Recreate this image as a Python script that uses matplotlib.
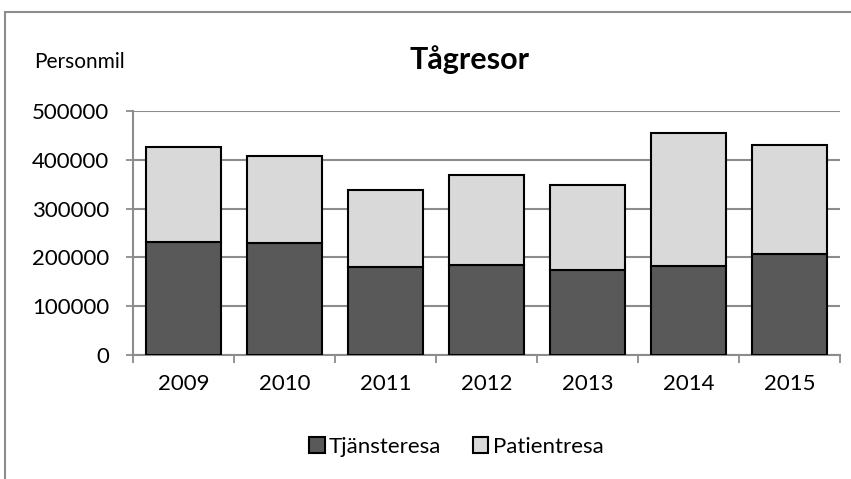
import numpy as np
import matplotlib
matplotlib.use("Agg")
import matplotlib.pyplot as plt
from matplotlib.patches import Rectangle

years = ['2009', '2010', '2011', '2012', '2013', '2014', '2015']
tjansteresa = [232500, 230500, 180500, 184000, 174000, 182000, 206500]
patientresa = [194500, 178500, 158500, 185000, 175500, 273000, 224500]
yticks = [0, 100000, 200000, 300000, 400000, 500000]

plt.rcParams['font.family'] = ['Lato', 'DejaVu Sans']

fig = plt.figure(figsize=(8.51, 4.79), dpi=100)
ax = fig.add_axes([0.156, 0.259, 0.831, 0.509])

# chart frame (runs off the right/bottom edge like the original)
fig.patches.append(Rectangle((5 / 851, -0.1), 1.2, 1.1 - 12 / 479, transform=fig.transFigure,
                             fill=False, edgecolor='#8c8c8c', linewidth=1.5, zorder=0))

x = np.arange(len(years))
w = 0.74
ax.bar(x, tjansteresa, w, color='#595959', edgecolor='black', linewidth=1.5, zorder=3,
       label='Tjänsteresa')
ax.bar(x, patientresa, w, bottom=tjansteresa, color='#d9d9d9', edgecolor='black', linewidth=1.5,
       zorder=3, label='Patientresa')

ax.set_xlim(-0.5, len(years) - 0.5)
ax.set_ylim(0, 500000)
ax.set_yticks(yticks)
ax.set_yticklabels([str(v) for v in yticks], fontsize=16)
ax.set_xticks(x)
ax.set_xticklabels(years, fontsize=16)
ax.set_xticks(np.arange(-0.5, len(years)), minor=True)
ax.tick_params(axis='x', which='major', length=0, pad=14)
ax.tick_params(axis='x', which='minor', length=6, color='#8c8c8c', width=1.3)
ax.tick_params(axis='y', length=5, color='#8c8c8c', width=1.3, pad=12)

ax.grid(axis='y', color='#8c8c8c', linewidth=1.5, zorder=0)
for s in ['top', 'right']:
    ax.spines[s].set_visible(False)
for s in ['left', 'bottom']:
    ax.spines[s].set_color('#8c8c8c')
    ax.spines[s].set_linewidth(1.5)

fig.text(0.552, 0.875, 'Tågresor', ha='center', va='center', fontsize=22, fontweight='bold')
fig.text(0.04, 0.87, 'Personmil', ha='left', va='center', fontsize=15, stretch='condensed')

leg = fig.legend(loc='center', bbox_to_anchor=(0.536, 0.067), ncol=2, frameon=False,
                 fontsize=16, handlelength=0.7, handleheight=0.7, handletextpad=0.2,
                 columnspacing=1.4)

fig.savefig('out.png', dpi=100)
